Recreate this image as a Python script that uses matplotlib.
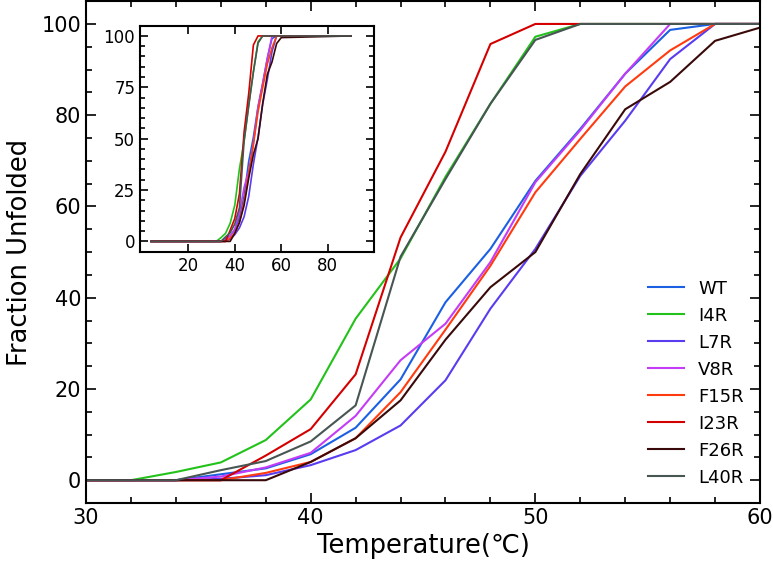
import matplotlib
matplotlib.use('Agg')
import matplotlib.pyplot as plt
from matplotlib.ticker import AutoMinorLocator, MultipleLocator

# temperatures (C); first/last points are the flat ends seen in the inset
temps = [4, 30, 32, 34, 36, 38, 40, 42, 44, 46, 48, 50, 52, 54, 56, 58, 60, 90]

wt   = [0, 0, 0, 0, 1.3, 2.6, 5.7, 11.5, 22.1, 39.0, 50.7, 65.6, 77.0, 89.1, 98.7, 100, 100, 100]
i4r  = [0, 0, 0, 1.8, 3.9, 8.8, 17.7, 35.4, 48.6, 66.5, 82.5, 97.2, 100, 100, 100, 100, 100, 100]
l7r  = [0, 0, 0, 0, 0.3, 1.1, 3.3, 6.6, 12.0, 21.9, 37.6, 50.7, 66.7, 78.8, 92.3, 100, 100, 100]
v8r  = [0, 0, 0, 0, 0.8, 2.8, 6.0, 14.1, 26.3, 34.3, 47.8, 65.3, 76.7, 89.1, 100, 100, 100, 100]
f15r = [0, 0, 0, 0, 0, 1.6, 4.0, 9.2, 19.3, 33.0, 47.0, 63.1, 74.8, 86.3, 94.2, 100, 100, 100]
i23r = [0, 0, 0, 0, 0, 5.4, 11.2, 23.2, 53.2, 72.0, 95.6, 100, 100, 100, 100, 100, 100, 100]
f26r = [0, 0, 0, 0, 0, 0, 4.0, 9.2, 17.5, 30.8, 42.3, 50.0, 67.1, 81.3, 87.3, 96.3, 99.2, 100]
l40r = [0, 0, 0, 0, 2.2, 4.2, 8.5, 16.4, 49.0, 66.0, 82.5, 96.5, 100, 100, 100, 100, 100, 100]

names = ['WT', 'I4R', 'L7R', 'V8R', 'F15R', 'I23R', 'F26R', 'L40R']
series = [wt, i4r, l7r, v8r, f15r, i23r, f26r, l40r]
colors = ['#1b5fe3', '#22c21a', '#5a3cf0', '#c43cf5', '#ff3b0f', '#d40000', '#3a0a0a', '#475553']


def style_ticks(ax, size, major_len, minor_len):
    ax.tick_params(which='both', direction='in', top=True, right=True,
                   width=1.2, labelsize=size)
    ax.tick_params(which='major', length=major_len)
    ax.tick_params(which='minor', length=minor_len)
    for s in ax.spines.values():
        s.set_linewidth(1.5)


def main():
    fig = plt.figure(figsize=(7.73, 5.68), dpi=100)
    ax = fig.add_axes([0.1113, 0.1144, 0.8719, 0.8836])

    for y, n, c in zip(series, names, colors):
        ax.plot(temps, y, color=c, lw=1.5, label=n)

    ax.set_xlim(30, 60)
    ax.set_ylim(-5, 105)
    ax.xaxis.set_major_locator(MultipleLocator(10))
    ax.xaxis.set_minor_locator(AutoMinorLocator(5))
    ax.yaxis.set_major_locator(MultipleLocator(20))
    ax.yaxis.set_minor_locator(AutoMinorLocator(4))
    style_ticks(ax, 15, 7, 4)
    ax.set_xlabel('Temperature(℃)', fontsize=18.5, labelpad=4)
    ax.set_ylabel('Fraction Unfolded', fontsize=18.5, labelpad=6)
    ax.legend(loc='lower right', frameon=False, fontsize=13)

    ins = fig.add_axes([0.1811, 0.5569, 0.3027, 0.3979])
    for y, c in zip(series, colors):
        ins.plot(temps, y, color=c, lw=1.2)
    ins.set_xlim(-0.8, 99.9)
    ins.set_ylim(-5, 105)
    ins.set_xticks([20, 40, 60, 80])
    ins.yaxis.set_major_locator(MultipleLocator(25))
    ins.yaxis.set_minor_locator(AutoMinorLocator(5))
    style_ticks(ins, 12, 6, 3.5)

    plt.savefig('out.png', dpi=100)


if __name__ == '__main__':
    main()
